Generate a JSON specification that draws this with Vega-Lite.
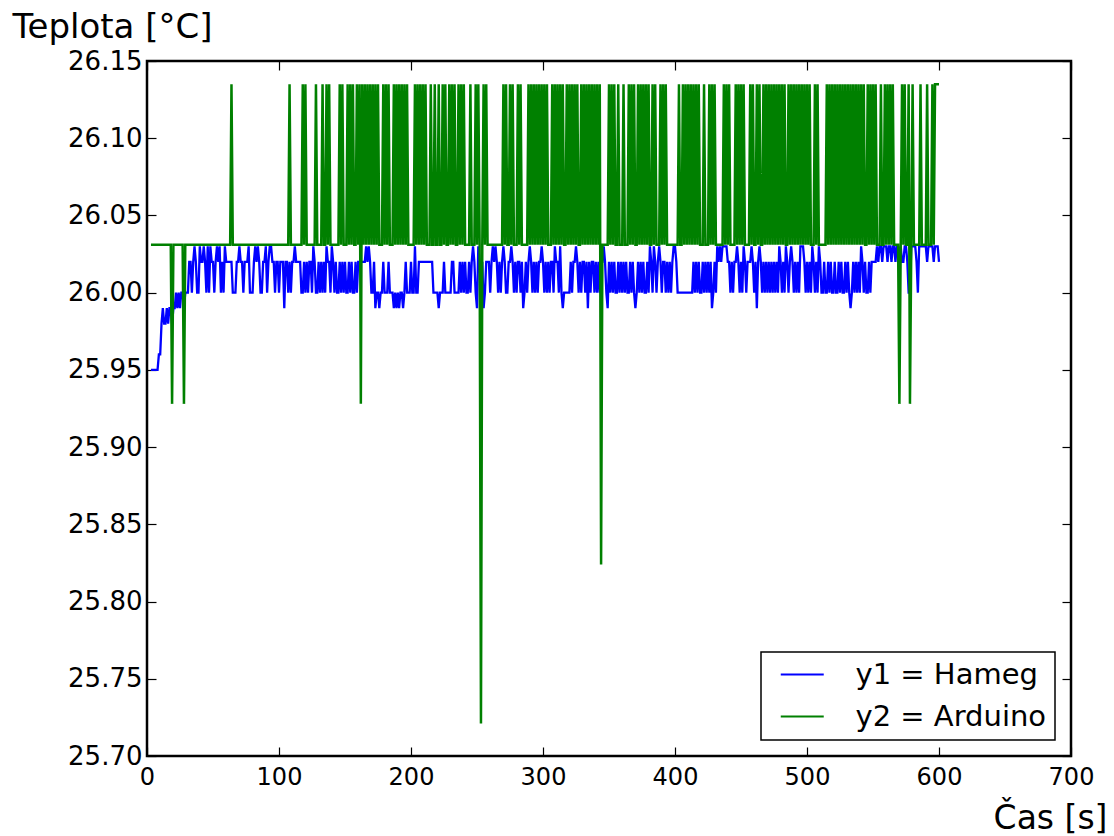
{
"$schema": "https://vega.github.io/schema/vega-lite/v6.json",
"width": 924, "height": 695,
"autosize": {"type": "none"},
"padding": {"left": 147, "top": 61, "right": 43, "bottom": 80},
"background": "white",
"config": {
  "view": {"stroke": "black", "strokeWidth": 2.5},
  "font": "DejaVu Sans",
  "axis": {"domain": false, "grid": false, "tickColor": "black", "tickWidth": 1.2, "tickSize": -9, "labelColor": "black", "labelFont": "DejaVu Sans", "labelFontSize": 24, "titleFont": "DejaVu Sans", "titleFontSize": 33, "titleFontWeight": "normal", "titleColor": "black", "labelFlush": false, "labelOverlap": false},
  "legend": {"orient": "none", "legendX": 614, "legendY": 591, "direction": "vertical", "strokeColor": "black", "strokeWidth": 1.5, "padding": 8, "fillColor": "white", "symbolType": "M-2,0H2", "symbolSize": 462, "symbolStrokeWidth": 2, "symbolOffset": 18.75, "labelOffset": 38.75, "labelFontSize": 29, "labelFont": "DejaVu Sans", "labelColor": "black", "labelLimit": 0, "rowPadding": 12}
},
"datasets": {
"hameg": [
{"t":3,"v":25.95},{"t":4,"v":25.95},{"t":5,"v":25.95},{"t":6,"v":25.95},{"t":7,"v":25.95},{"t":8,"v":25.95},{"t":9,"v":25.96},{"t":10,"v":25.96},
{"t":11,"v":25.98},{"t":12,"v":25.99},{"t":13,"v":25.98},{"t":14,"v":25.98},{"t":15,"v":25.99},{"t":16,"v":25.98},{"t":17,"v":25.99},{"t":18,"v":25.99},{"t":19,"v":25.98},{"t":20,"v":25.99},
{"t":21,"v":25.99},{"t":22,"v":26},{"t":23,"v":25.99},{"t":24,"v":26},{"t":25,"v":25.99},{"t":26,"v":26},{"t":27,"v":26},{"t":28,"v":25.99},{"t":29,"v":26},{"t":30,"v":26},
{"t":31,"v":26},{"t":32,"v":26.02},{"t":33,"v":26.02},{"t":34,"v":26},{"t":35,"v":26.02},{"t":36,"v":26.03},{"t":37,"v":26.02},{"t":38,"v":26},{"t":39,"v":26},{"t":40,"v":26.03},
{"t":41,"v":26.02},{"t":42,"v":26.02},{"t":43,"v":26.03},{"t":44,"v":26.02},{"t":45,"v":26},{"t":46,"v":26.03},{"t":47,"v":26},{"t":48,"v":26.03},{"t":49,"v":26.02},{"t":50,"v":26.02},
{"t":51,"v":26},{"t":52,"v":26.02},{"t":53,"v":26.03},{"t":54,"v":26.02},{"t":55,"v":26.03},{"t":56,"v":26},{"t":57,"v":26.02},{"t":58,"v":26},{"t":59,"v":26.03},{"t":60,"v":26.02},
{"t":61,"v":26.02},{"t":62,"v":26.02},{"t":63,"v":26.02},{"t":64,"v":26.02},{"t":65,"v":26},{"t":66,"v":26},{"t":67,"v":26},{"t":68,"v":26.02},{"t":69,"v":26.02},{"t":70,"v":26.03},
{"t":71,"v":26.02},{"t":72,"v":26.02},{"t":73,"v":26},{"t":74,"v":26.02},{"t":75,"v":26.02},{"t":76,"v":26.02},{"t":77,"v":26.03},{"t":78,"v":26},{"t":79,"v":26},{"t":80,"v":26},
{"t":81,"v":26.02},{"t":82,"v":26.03},{"t":83,"v":26.02},{"t":84,"v":26.03},{"t":85,"v":26.02},{"t":86,"v":26},{"t":87,"v":26},{"t":88,"v":26.02},{"t":89,"v":26.02},{"t":90,"v":26.03},
{"t":91,"v":26},{"t":92,"v":26.02},{"t":93,"v":26.03},{"t":94,"v":26.03},{"t":95,"v":26.02},{"t":96,"v":26.02},{"t":97,"v":26},{"t":98,"v":26.02},{"t":99,"v":26.02},{"t":100,"v":26},
{"t":101,"v":26.02},{"t":102,"v":26.02},{"t":103,"v":26.02},{"t":104,"v":25.99},{"t":105,"v":26.02},{"t":106,"v":26.02},{"t":107,"v":26},{"t":108,"v":26.02},{"t":109,"v":26},{"t":110,"v":26.02},
{"t":111,"v":26.02},{"t":112,"v":26.03},{"t":113,"v":26.02},{"t":114,"v":26.02},{"t":115,"v":26.02},{"t":116,"v":26.02},{"t":117,"v":26},{"t":118,"v":26},{"t":119,"v":26.02},{"t":120,"v":26},
{"t":121,"v":26.02},{"t":122,"v":26},{"t":123,"v":26.02},{"t":124,"v":26.02},{"t":125,"v":26},{"t":126,"v":26.03},{"t":127,"v":26.02},{"t":128,"v":26},{"t":129,"v":26},{"t":130,"v":26.02},
{"t":131,"v":26},{"t":132,"v":26.02},{"t":133,"v":26},{"t":134,"v":26.02},{"t":135,"v":26},{"t":136,"v":26.03},{"t":137,"v":26.02},{"t":138,"v":26.02},{"t":139,"v":26},{"t":140,"v":26.03},
{"t":141,"v":26.02},{"t":142,"v":26},{"t":143,"v":26.02},{"t":144,"v":26},{"t":145,"v":26},{"t":146,"v":26.02},{"t":147,"v":26},{"t":148,"v":26.02},{"t":149,"v":26},{"t":150,"v":26.02},
{"t":151,"v":26},{"t":152,"v":26},{"t":153,"v":26.02},{"t":154,"v":26},{"t":155,"v":26.02},{"t":156,"v":26},{"t":157,"v":26},{"t":158,"v":26.02},{"t":159,"v":26},{"t":160,"v":26.02},
{"t":161,"v":26.02},{"t":162,"v":26.02},{"t":163,"v":26.02},{"t":164,"v":26.02},{"t":165,"v":26.02},{"t":166,"v":26.03},{"t":167,"v":26.02},{"t":168,"v":26.03},{"t":169,"v":26.02},{"t":170,"v":26},
{"t":171,"v":26},{"t":172,"v":26.02},{"t":173,"v":25.99},{"t":174,"v":26},{"t":175,"v":26},{"t":176,"v":25.99},{"t":177,"v":26},{"t":178,"v":26},{"t":179,"v":26.02},{"t":180,"v":26},
{"t":181,"v":26},{"t":182,"v":26},{"t":183,"v":26.02},{"t":184,"v":26},{"t":185,"v":26},{"t":186,"v":26},{"t":187,"v":25.99},{"t":188,"v":26},{"t":189,"v":25.99},{"t":190,"v":26},
{"t":191,"v":25.99},{"t":192,"v":26},{"t":193,"v":26},{"t":194,"v":25.99},{"t":195,"v":26},{"t":196,"v":26.02},{"t":197,"v":26},{"t":198,"v":26},{"t":199,"v":26},{"t":200,"v":26.02},
{"t":201,"v":26},{"t":202,"v":26},{"t":203,"v":26.03},{"t":204,"v":26},{"t":205,"v":26},{"t":206,"v":26.02},{"t":207,"v":26.02},{"t":208,"v":26.02},{"t":209,"v":26.02},{"t":210,"v":26.02},
{"t":211,"v":26.02},{"t":212,"v":26.02},{"t":213,"v":26.02},{"t":214,"v":26.02},{"t":215,"v":26.02},{"t":216,"v":26.02},{"t":217,"v":26},{"t":218,"v":26},{"t":219,"v":26},{"t":220,"v":26},
{"t":221,"v":25.99},{"t":222,"v":26},{"t":223,"v":26},{"t":224,"v":26},{"t":225,"v":26.02},{"t":226,"v":26},{"t":227,"v":26},{"t":228,"v":26},{"t":229,"v":26},{"t":230,"v":26},
{"t":231,"v":26.02},{"t":232,"v":26.02},{"t":233,"v":26},{"t":234,"v":26},{"t":235,"v":26},{"t":236,"v":26},{"t":237,"v":26.02},{"t":238,"v":26},{"t":239,"v":26.02},{"t":240,"v":26},
{"t":241,"v":26.02},{"t":242,"v":26},{"t":243,"v":26},{"t":244,"v":26.02},{"t":245,"v":26},{"t":246,"v":26.02},{"t":247,"v":26.03},{"t":248,"v":26.02},{"t":249,"v":26},{"t":250,"v":25.99},
{"t":251,"v":26.03},{"t":252,"v":26.02},{"t":253,"v":26},{"t":254,"v":26.02},{"t":255,"v":25.99},{"t":256,"v":26},{"t":257,"v":26.02},{"t":258,"v":26.02},{"t":259,"v":26.02},{"t":260,"v":26},
{"t":261,"v":26.02},{"t":262,"v":26.03},{"t":263,"v":26.02},{"t":264,"v":26.03},{"t":265,"v":26.02},{"t":266,"v":26},{"t":267,"v":26.02},{"t":268,"v":26},{"t":269,"v":26.02},{"t":270,"v":26.03},
{"t":271,"v":26.02},{"t":272,"v":26},{"t":273,"v":26},{"t":274,"v":26.02},{"t":275,"v":26.02},{"t":276,"v":26.03},{"t":277,"v":26.02},{"t":278,"v":26},{"t":279,"v":26.02},{"t":280,"v":26},
{"t":281,"v":26.02},{"t":282,"v":26.02},{"t":283,"v":26},{"t":284,"v":26.02},{"t":285,"v":25.99},{"t":286,"v":26},{"t":287,"v":26.02},{"t":288,"v":26},{"t":289,"v":26.02},{"t":290,"v":26.03},
{"t":291,"v":26.02},{"t":292,"v":26},{"t":293,"v":26.02},{"t":294,"v":26},{"t":295,"v":26.02},{"t":296,"v":26},{"t":297,"v":26.02},{"t":298,"v":26.02},{"t":299,"v":26.03},{"t":300,"v":26.02},
{"t":301,"v":26},{"t":302,"v":26.02},{"t":303,"v":26},{"t":304,"v":26.02},{"t":305,"v":26},{"t":306,"v":26.02},{"t":307,"v":26.02},{"t":308,"v":26},{"t":309,"v":26.03},{"t":310,"v":26.02},
{"t":311,"v":26.02},{"t":312,"v":26},{"t":313,"v":26.03},{"t":314,"v":26},{"t":315,"v":25.99},{"t":316,"v":26},{"t":317,"v":26},{"t":318,"v":26},{"t":319,"v":26},{"t":320,"v":26},
{"t":321,"v":26.02},{"t":322,"v":26},{"t":323,"v":26.02},{"t":324,"v":26.02},{"t":325,"v":26.03},{"t":326,"v":26.02},{"t":327,"v":26},{"t":328,"v":26.02},{"t":329,"v":26},{"t":330,"v":26.02},
{"t":331,"v":26.02},{"t":332,"v":26},{"t":333,"v":26.02},{"t":334,"v":25.99},{"t":335,"v":26.02},{"t":336,"v":26},{"t":337,"v":26.02},{"t":338,"v":26.02},{"t":339,"v":26},{"t":340,"v":26.02},
{"t":341,"v":26},{"t":342,"v":26.02},{"t":343,"v":26},{"t":344,"v":26.02},{"t":345,"v":26.02},{"t":346,"v":26.03},{"t":347,"v":26.02},{"t":348,"v":26},{"t":349,"v":25.99},{"t":350,"v":26.02},
{"t":351,"v":26},{"t":352,"v":26.02},{"t":353,"v":26},{"t":354,"v":26.02},{"t":355,"v":26},{"t":356,"v":26},{"t":357,"v":26.02},{"t":358,"v":26},{"t":359,"v":26.02},{"t":360,"v":26},
{"t":361,"v":26.02},{"t":362,"v":26},{"t":363,"v":26.02},{"t":364,"v":26},{"t":365,"v":26},{"t":366,"v":26.02},{"t":367,"v":26},{"t":368,"v":26.02},{"t":369,"v":26},{"t":370,"v":25.99},
{"t":371,"v":26},{"t":372,"v":26.02},{"t":373,"v":26},{"t":374,"v":26.02},{"t":375,"v":26},{"t":376,"v":26.02},{"t":377,"v":26},{"t":378,"v":26},{"t":379,"v":26.02},{"t":380,"v":26},
{"t":381,"v":26.03},{"t":382,"v":26.02},{"t":383,"v":26},{"t":384,"v":26.03},{"t":385,"v":26.02},{"t":386,"v":26},{"t":387,"v":26.02},{"t":388,"v":26.03},{"t":389,"v":26.02},{"t":390,"v":26},
{"t":391,"v":26.02},{"t":392,"v":26.02},{"t":393,"v":26},{"t":394,"v":26.02},{"t":395,"v":26},{"t":396,"v":26.02},{"t":397,"v":26},{"t":398,"v":26.02},{"t":399,"v":26.03},{"t":400,"v":26.03},
{"t":401,"v":26.02},{"t":402,"v":26},{"t":403,"v":26},{"t":404,"v":26},{"t":405,"v":26},{"t":406,"v":26},{"t":407,"v":26},{"t":408,"v":26},{"t":409,"v":26},{"t":410,"v":26},
{"t":411,"v":26},{"t":412,"v":26},{"t":413,"v":26},{"t":414,"v":26.02},{"t":415,"v":26},{"t":416,"v":26.02},{"t":417,"v":26},{"t":418,"v":26.02},{"t":419,"v":26},{"t":420,"v":26},
{"t":421,"v":26.02},{"t":422,"v":26},{"t":423,"v":26.02},{"t":424,"v":26},{"t":425,"v":26.02},{"t":426,"v":26},{"t":427,"v":26.02},{"t":428,"v":25.99},{"t":429,"v":26},{"t":430,"v":26.02},
{"t":431,"v":26},{"t":432,"v":26.03},{"t":433,"v":26.02},{"t":434,"v":26.03},{"t":435,"v":26.02},{"t":436,"v":26.03},{"t":437,"v":26.03},{"t":438,"v":26.03},{"t":439,"v":26.03},{"t":440,"v":26.02},
{"t":441,"v":26.02},{"t":442,"v":26},{"t":443,"v":26.02},{"t":444,"v":26},{"t":445,"v":26.02},{"t":446,"v":26.02},{"t":447,"v":26.03},{"t":448,"v":26.02},{"t":449,"v":26},{"t":450,"v":26.02},
{"t":451,"v":26},{"t":452,"v":26.03},{"t":453,"v":26.02},{"t":454,"v":26},{"t":455,"v":26.02},{"t":456,"v":26.02},{"t":457,"v":26.02},{"t":458,"v":26.03},{"t":459,"v":26.02},{"t":460,"v":26},
{"t":461,"v":26.02},{"t":462,"v":25.99},{"t":463,"v":26.02},{"t":464,"v":26.03},{"t":465,"v":26.02},{"t":466,"v":26},{"t":467,"v":26.02},{"t":468,"v":26},{"t":469,"v":26.02},{"t":470,"v":26},
{"t":471,"v":26.02},{"t":472,"v":26},{"t":473,"v":26.02},{"t":474,"v":26},{"t":475,"v":26.02},{"t":476,"v":26},{"t":477,"v":26.02},{"t":478,"v":26},{"t":479,"v":26.03},{"t":480,"v":26.02},
{"t":481,"v":26},{"t":482,"v":26.02},{"t":483,"v":26},{"t":484,"v":26.03},{"t":485,"v":26.02},{"t":486,"v":26},{"t":487,"v":26.02},{"t":488,"v":26.03},{"t":489,"v":26.02},{"t":490,"v":26},
{"t":491,"v":26.02},{"t":492,"v":26},{"t":493,"v":26.02},{"t":494,"v":26},{"t":495,"v":26.03},{"t":496,"v":26.03},{"t":497,"v":26.03},{"t":498,"v":26.02},{"t":499,"v":26},{"t":500,"v":26.02},
{"t":501,"v":26},{"t":502,"v":26.02},{"t":503,"v":26},{"t":504,"v":26.03},{"t":505,"v":26.02},{"t":506,"v":26},{"t":507,"v":26.02},{"t":508,"v":26},{"t":509,"v":26.03},{"t":510,"v":26.02},
{"t":511,"v":26},{"t":512,"v":26},{"t":513,"v":26.02},{"t":514,"v":26},{"t":515,"v":26},{"t":516,"v":26.02},{"t":517,"v":26},{"t":518,"v":26.02},{"t":519,"v":26},{"t":520,"v":26},
{"t":521,"v":26.02},{"t":522,"v":26},{"t":523,"v":26},{"t":524,"v":26.02},{"t":525,"v":26},{"t":526,"v":26.02},{"t":527,"v":26},{"t":528,"v":26},{"t":529,"v":26.02},{"t":530,"v":26},
{"t":531,"v":26.02},{"t":532,"v":26},{"t":533,"v":25.99},{"t":534,"v":26},{"t":535,"v":26.02},{"t":536,"v":26},{"t":537,"v":26.02},{"t":538,"v":26},{"t":539,"v":26.02},{"t":540,"v":26},
{"t":541,"v":26.03},{"t":542,"v":26.02},{"t":543,"v":26},{"t":544,"v":26.02},{"t":545,"v":26},{"t":546,"v":26},{"t":547,"v":26.02},{"t":548,"v":26},{"t":549,"v":26.02},{"t":550,"v":26.02},
{"t":551,"v":26.02},{"t":552,"v":26.02},{"t":553,"v":26.03},{"t":554,"v":26.02},{"t":555,"v":26.03},{"t":556,"v":26.03},{"t":557,"v":26.02},{"t":558,"v":26.03},{"t":559,"v":26.03},{"t":560,"v":26.03},
{"t":561,"v":26.02},{"t":562,"v":26.03},{"t":563,"v":26.03},{"t":564,"v":26.02},{"t":565,"v":26.03},{"t":566,"v":26.03},{"t":567,"v":26.02},{"t":568,"v":26.03},{"t":569,"v":26.03},{"t":570,"v":26.02},
{"t":571,"v":26.03},{"t":572,"v":26.02},{"t":573,"v":26.02},{"t":574,"v":26.03},{"t":575,"v":26.03},{"t":576,"v":26.02},{"t":577,"v":26},{"t":578,"v":26},{"t":579,"v":26.03},{"t":580,"v":26.03},
{"t":581,"v":26.03},{"t":582,"v":26.03},{"t":583,"v":26.02},{"t":584,"v":26},{"t":585,"v":26.03},{"t":586,"v":26.03},{"t":587,"v":26.03},{"t":588,"v":26.03},{"t":589,"v":26.03},{"t":590,"v":26.03},
{"t":591,"v":26.02},{"t":592,"v":26.03},{"t":593,"v":26.03},{"t":594,"v":26.03},{"t":595,"v":26.03},{"t":596,"v":26.02},{"t":597,"v":26.03},{"t":598,"v":26.03},{"t":599,"v":26.03},{"t":600,"v":26.02}
],
"arduino": [
{"t":3,"v":26.031},{"t":18,"v":26.031},{"t":19,"v":25.928},{"t":20,"v":26.031},{"t":27,"v":26.031},{"t":28,"v":25.928},{"t":29,"v":26.031},{"t":63,"v":26.031},{"t":64,"v":26.135},{"t":65,"v":26.031},
{"t":107,"v":26.031},{"t":108,"v":26.135},{"t":109,"v":26.031},{"t":117,"v":26.031},{"t":118,"v":26.135},{"t":119,"v":26.031},{"t":120,"v":26.135},{"t":121,"v":26.031},{"t":127,"v":26.031},{"t":128,"v":26.135},
{"t":129,"v":26.031},{"t":132,"v":26.031},{"t":133,"v":26.135},{"t":134,"v":26.031},{"t":135,"v":26.031},{"t":136,"v":26.135},{"t":137,"v":26.031},{"t":138,"v":26.135},{"t":139,"v":26.031},
{"t":145,"v":26.031},{"t":146,"v":26.135},{"t":147,"v":26.031},{"t":148,"v":26.135},{"t":149,"v":26.031},
{"t":150,"v":26.031},{"t":151,"v":26.031},{"t":152,"v":26.135},{"t":153,"v":26.031},{"t":154,"v":26.135},{"t":155,"v":26.031},{"t":156,"v":26.135},{"t":157,"v":26.031},{"t":158,"v":26.031},{"t":159,"v":26.135},
{"t":160,"v":26.031},{"t":161,"v":26.135},{"t":162,"v":25.928},{"t":163,"v":26.135},{"t":164,"v":26.031},{"t":165,"v":26.135},{"t":166,"v":26.031},{"t":167,"v":26.135},{"t":168,"v":26.031},{"t":169,"v":26.135},
{"t":170,"v":26.031},{"t":171,"v":26.135},{"t":172,"v":26.031},{"t":173,"v":26.135},{"t":174,"v":26.031},{"t":175,"v":26.135},{"t":176,"v":26.031},{"t":177,"v":26.031},{"t":178,"v":26.031},{"t":179,"v":26.135},
{"t":180,"v":26.031},{"t":181,"v":26.135},{"t":182,"v":26.031},{"t":183,"v":26.135},{"t":184,"v":26.031},{"t":185,"v":26.031},{"t":186,"v":26.031},{"t":187,"v":26.135},{"t":188,"v":26.031},{"t":189,"v":26.135},
{"t":190,"v":26.031},{"t":191,"v":26.135},{"t":192,"v":26.031},{"t":193,"v":26.135},{"t":194,"v":26.031},{"t":195,"v":26.135},{"t":196,"v":26.031},{"t":197,"v":26.135},{"t":198,"v":26.031},{"t":199,"v":26.031},
{"t":200,"v":26.031},{"t":201,"v":26.031},{"t":202,"v":26.031},{"t":203,"v":26.135},{"t":204,"v":26.031},{"t":205,"v":26.135},{"t":206,"v":26.031},{"t":207,"v":26.135},{"t":208,"v":26.031},{"t":209,"v":26.135},
{"t":210,"v":26.031},{"t":211,"v":26.135},{"t":212,"v":26.031},{"t":213,"v":26.031},{"t":214,"v":26.031},{"t":215,"v":26.135},{"t":216,"v":26.031},{"t":217,"v":26.031},{"t":218,"v":26.135},{"t":219,"v":26.031},
{"t":220,"v":26.031},{"t":221,"v":26.135},{"t":222,"v":26.031},{"t":223,"v":26.031},{"t":224,"v":26.135},{"t":225,"v":26.031},{"t":226,"v":26.135},{"t":227,"v":26.031},{"t":228,"v":26.031},{"t":229,"v":26.135},
{"t":230,"v":26.031},{"t":231,"v":26.135},{"t":232,"v":26.031},{"t":233,"v":26.135},{"t":234,"v":26.031},{"t":235,"v":26.031},{"t":236,"v":26.135},{"t":237,"v":26.031},{"t":238,"v":26.135},{"t":239,"v":26.031},
{"t":240,"v":26.135},{"t":241,"v":26.031},{"t":242,"v":26.031},{"t":243,"v":26.031},{"t":244,"v":26.031},{"t":245,"v":26.135},{"t":246,"v":26.031},{"t":247,"v":26.031},{"t":248,"v":26.031},{"t":249,"v":26.135},
{"t":250,"v":26.031},{"t":251,"v":26.135},{"t":252,"v":26.031},{"t":253,"v":25.721},{"t":254,"v":26.031},{"t":255,"v":26.135},{"t":256,"v":26.031},{"t":257,"v":26.135},{"t":258,"v":26.031},{"t":259,"v":26.031},
{"t":269,"v":26.031},
{"t":270,"v":26.135},{"t":271,"v":26.031},{"t":272,"v":26.135},{"t":273,"v":26.031},{"t":274,"v":26.031},{"t":275,"v":26.135},{"t":276,"v":26.031},{"t":277,"v":26.135},{"t":278,"v":26.031},{"t":279,"v":26.031},
{"t":280,"v":26.031},{"t":281,"v":26.135},{"t":282,"v":26.031},{"t":283,"v":26.135},{"t":284,"v":26.031},{"t":285,"v":26.031},{"t":286,"v":26.031},{"t":287,"v":26.031},{"t":288,"v":26.031},{"t":289,"v":26.135},
{"t":290,"v":26.031},{"t":291,"v":26.135},{"t":292,"v":26.031},{"t":293,"v":26.135},{"t":294,"v":26.031},{"t":295,"v":26.135},{"t":296,"v":26.031},{"t":297,"v":26.135},{"t":298,"v":26.031},{"t":299,"v":26.135},
{"t":300,"v":26.031},{"t":301,"v":26.135},{"t":302,"v":26.031},{"t":303,"v":26.135},{"t":304,"v":26.031},{"t":305,"v":26.031},{"t":306,"v":26.031},{"t":307,"v":26.135},{"t":308,"v":26.031},{"t":309,"v":26.135},
{"t":310,"v":26.031},{"t":311,"v":26.135},{"t":312,"v":26.031},{"t":313,"v":26.135},{"t":314,"v":26.031},{"t":315,"v":26.135},{"t":316,"v":26.031},{"t":317,"v":26.031},{"t":318,"v":26.135},{"t":319,"v":26.031},
{"t":320,"v":26.135},{"t":321,"v":26.031},{"t":322,"v":26.135},{"t":323,"v":26.031},{"t":324,"v":26.135},{"t":325,"v":26.031},{"t":326,"v":26.135},{"t":327,"v":26.031},{"t":328,"v":26.031},{"t":329,"v":26.135},
{"t":330,"v":26.031},{"t":331,"v":26.135},{"t":332,"v":26.031},{"t":333,"v":26.135},{"t":334,"v":26.031},{"t":335,"v":26.135},{"t":336,"v":26.031},{"t":337,"v":26.135},{"t":338,"v":26.031},{"t":339,"v":26.135},
{"t":340,"v":26.031},{"t":341,"v":26.135},{"t":342,"v":26.031},{"t":343,"v":26.135},{"t":344,"v":25.824},{"t":345,"v":26.031},{"t":349,"v":26.031},
{"t":350,"v":26.135},{"t":351,"v":26.031},{"t":352,"v":26.135},{"t":353,"v":26.031},{"t":354,"v":26.135},{"t":355,"v":26.031},{"t":356,"v":26.031},{"t":357,"v":26.135},{"t":358,"v":26.031},{"t":359,"v":26.031},
{"t":360,"v":26.031},{"t":361,"v":26.135},{"t":362,"v":26.031},{"t":363,"v":26.031},{"t":364,"v":26.031},{"t":365,"v":26.135},{"t":366,"v":26.031},{"t":367,"v":26.135},{"t":368,"v":26.031},{"t":369,"v":26.135},
{"t":370,"v":26.031},{"t":371,"v":26.031},{"t":372,"v":26.135},{"t":373,"v":26.031},{"t":374,"v":26.135},{"t":375,"v":26.031},{"t":376,"v":26.135},{"t":377,"v":26.031},{"t":378,"v":26.135},{"t":379,"v":26.031},
{"t":380,"v":26.135},{"t":381,"v":26.031},{"t":382,"v":26.031},{"t":383,"v":26.135},{"t":384,"v":26.031},{"t":385,"v":26.135},{"t":386,"v":26.031},{"t":387,"v":26.031},{"t":388,"v":26.031},{"t":389,"v":26.135},
{"t":390,"v":26.031},{"t":391,"v":26.135},{"t":392,"v":26.031},{"t":393,"v":26.135},{"t":394,"v":26.031},{"t":402,"v":26.031},
{"t":403,"v":26.135},{"t":404,"v":26.031},{"t":405,"v":26.031},{"t":406,"v":26.135},{"t":407,"v":26.031},{"t":408,"v":26.135},{"t":409,"v":26.031},
{"t":410,"v":26.135},{"t":411,"v":26.031},{"t":412,"v":26.135},{"t":413,"v":26.031},{"t":414,"v":26.135},{"t":415,"v":26.031},{"t":416,"v":26.135},{"t":417,"v":26.031},{"t":418,"v":26.135},{"t":419,"v":26.031},
{"t":420,"v":26.031},{"t":421,"v":26.031},{"t":422,"v":26.135},{"t":423,"v":26.031},{"t":424,"v":26.031},{"t":425,"v":26.031},{"t":426,"v":26.135},{"t":427,"v":26.031},{"t":428,"v":26.135},{"t":429,"v":26.031},
{"t":430,"v":26.135},{"t":431,"v":26.031},{"t":436,"v":26.031},{"t":437,"v":26.135},{"t":438,"v":26.031},{"t":439,"v":26.135},
{"t":440,"v":26.031},{"t":441,"v":26.135},{"t":442,"v":26.031},{"t":445,"v":26.031},{"t":446,"v":26.135},{"t":447,"v":26.031},{"t":448,"v":26.135},{"t":449,"v":26.031},
{"t":450,"v":26.135},{"t":451,"v":26.031},{"t":452,"v":26.135},{"t":453,"v":26.031},{"t":456,"v":26.031},{"t":457,"v":26.135},{"t":458,"v":26.031},{"t":459,"v":26.135},
{"t":460,"v":26.031},{"t":461,"v":26.031},{"t":462,"v":26.135},{"t":463,"v":26.031},{"t":464,"v":26.135},{"t":465,"v":26.031},{"t":466,"v":26.031},{"t":467,"v":26.135},{"t":468,"v":26.031},{"t":469,"v":26.135},
{"t":470,"v":26.031},{"t":471,"v":26.135},{"t":472,"v":26.031},{"t":473,"v":26.135},{"t":474,"v":26.031},{"t":475,"v":26.135},{"t":476,"v":26.031},{"t":477,"v":26.135},{"t":478,"v":26.031},{"t":479,"v":26.135},
{"t":480,"v":26.031},{"t":481,"v":26.135},{"t":482,"v":26.031},{"t":483,"v":26.135},{"t":484,"v":26.031},{"t":485,"v":26.031},{"t":486,"v":26.135},{"t":487,"v":26.031},{"t":488,"v":26.135},{"t":489,"v":26.031},
{"t":490,"v":26.135},{"t":491,"v":26.031},{"t":492,"v":26.135},{"t":493,"v":26.031},{"t":494,"v":26.135},{"t":495,"v":26.031},{"t":496,"v":26.135},{"t":497,"v":26.031},{"t":498,"v":26.135},{"t":499,"v":26.031},
{"t":500,"v":26.135},{"t":501,"v":26.031},{"t":502,"v":26.135},{"t":503,"v":26.031},{"t":504,"v":26.031},{"t":505,"v":26.031},{"t":506,"v":26.135},{"t":507,"v":26.031},{"t":508,"v":26.135},{"t":509,"v":26.031},
{"t":514,"v":26.031},{"t":515,"v":26.135},{"t":516,"v":26.031},{"t":517,"v":26.135},{"t":518,"v":26.031},{"t":519,"v":26.135},
{"t":520,"v":26.031},{"t":521,"v":26.135},{"t":522,"v":26.031},{"t":523,"v":26.135},{"t":524,"v":26.031},{"t":525,"v":26.135},{"t":526,"v":26.031},{"t":527,"v":26.135},{"t":528,"v":26.031},{"t":529,"v":26.135},
{"t":530,"v":26.031},{"t":531,"v":26.135},{"t":532,"v":26.031},{"t":533,"v":26.135},{"t":534,"v":26.031},{"t":535,"v":26.135},{"t":536,"v":26.031},{"t":537,"v":26.135},{"t":538,"v":26.031},{"t":539,"v":26.135},
{"t":540,"v":26.031},{"t":541,"v":26.135},{"t":542,"v":26.031},{"t":543,"v":26.135},{"t":544,"v":26.031},{"t":545,"v":26.031},{"t":546,"v":26.135},{"t":547,"v":26.031},{"t":548,"v":26.135},{"t":549,"v":26.031},
{"t":550,"v":26.135},{"t":551,"v":26.031},{"t":552,"v":26.135},{"t":553,"v":26.031},{"t":554,"v":26.031},{"t":555,"v":26.031},{"t":556,"v":26.135},{"t":557,"v":26.031},{"t":558,"v":26.031},{"t":559,"v":26.135},
{"t":560,"v":26.031},{"t":561,"v":26.135},{"t":562,"v":26.031},{"t":563,"v":26.135},{"t":564,"v":26.031},{"t":565,"v":26.135},{"t":566,"v":26.031},{"t":567,"v":26.031},{"t":568,"v":26.031},{"t":569,"v":26.031},
{"t":570,"v":25.928},{"t":571,"v":26.031},{"t":572,"v":26.135},{"t":573,"v":26.031},{"t":574,"v":26.135},{"t":575,"v":26.031},{"t":576,"v":26.031},{"t":577,"v":26.135},{"t":578,"v":25.928},{"t":579,"v":26.031},
{"t":580,"v":26.135},{"t":581,"v":26.031},{"t":585,"v":26.031},{"t":586,"v":26.135},{"t":587,"v":26.031},{"t":588,"v":26.031},{"t":589,"v":26.031},
{"t":590,"v":26.031},{"t":591,"v":26.135},{"t":592,"v":26.031},{"t":593,"v":26.031},{"t":594,"v":26.031},{"t":595,"v":26.135},{"t":596,"v":26.031},{"t":597,"v":26.135},{"t":598,"v":26.135},{"t":599,"v":26.135},
{"t":600,"v":26.135}
]
},
"layer": [
  {
    "data": {"name": "hameg"},
    "mark": {"type": "line", "strokeWidth": 2.3, "clip": true},
    "encoding": {
      "x": {"field": "t", "type": "quantitative", "scale": {"domain": [0, 700], "nice": false, "zero": false},
            "axis": {"orient": "bottom", "values": [0,100,200,300,400,500,600,700], "title": "Čas [s]", "titleAngle": 0, "titleAlign": "right", "titleBaseline": "alphabetic", "titleX": 960, "titleY": 72, "labelPadding": 18}},
      "y": {"field": "v", "type": "quantitative", "scale": {"domain": [25.7, 26.15], "nice": false, "zero": false},
            "axis": {"orient": "left", "values": [25.7,25.75,25.8,25.85,25.9,25.95,26.0,26.05,26.1,26.15], "format": ".2f", "title": "Teplota [°C]", "titleFontSize": 34, "titleAngle": 0, "titleAlign": "left", "titleBaseline": "alphabetic", "titleX": -135, "titleY": -24, "labelPadding": 14, "labelFontSize": 26}},
      "color": {"datum": "y1 = Hameg", "type": "nominal", "scale": {"domain": ["y1 = Hameg", "y2 = Arduino"], "range": ["#0000ff", "#008000"]}, "legend": {"title": null}}
    }
  },
  {
    "data": {"name": "arduino"},
    "mark": {"type": "line", "strokeWidth": 2.5, "clip": true},
    "encoding": {
      "x": {"field": "t", "type": "quantitative", "axis": {"orient": "top", "values": [0,100,200,300,400,500,600,700], "labels": false, "title": null}},
      "y": {"field": "v", "type": "quantitative", "axis": {"orient": "right", "values": [25.7,25.75,25.8,25.85,25.9,25.95,26.0,26.05,26.1,26.15], "labels": false, "title": null}},
      "color": {"datum": "y2 = Arduino", "type": "nominal", "legend": {"title": null}}
    }
  }
],
"resolve": {"axis": {"x": "independent", "y": "independent"}}
}
